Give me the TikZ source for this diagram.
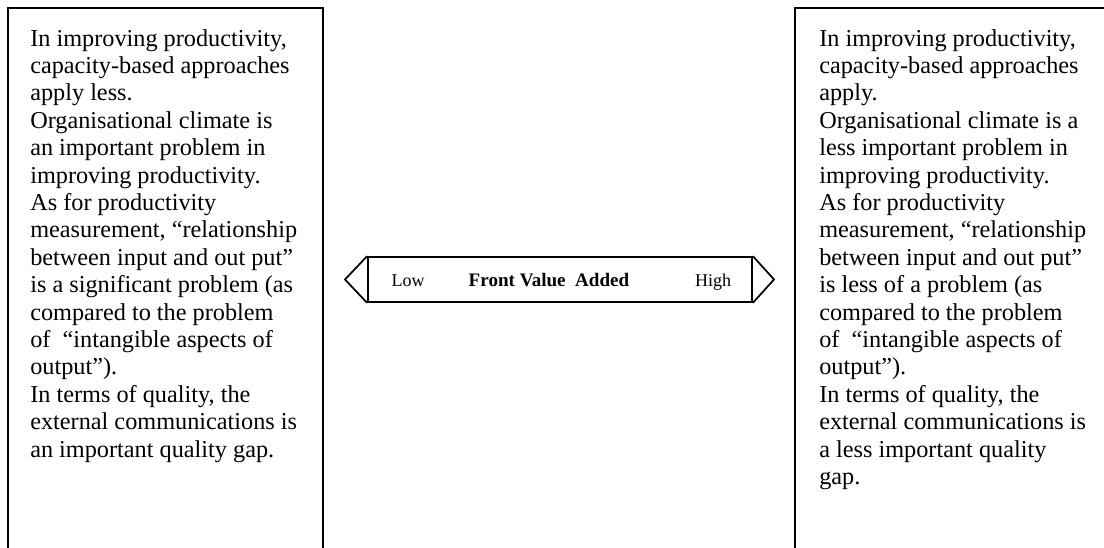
\documentclass[tikz,border=0pt]{standalone}
\usepackage{fontspec}
\setmainfont{Liberation Serif}
\begin{document}
\begin{tikzpicture}[x=0.75pt,y=-0.75pt,
  boxline/.style={line width=1.5pt},
  bodytext/.style={anchor=north west,inner sep=0pt,align=left,font=\fontsize{18.2}{20.55}\selectfont},
  barbox/.style={draw,line width=1.3pt,minimum width=288pt,minimum height=33.75pt,inner sep=0pt},
  barline/.style={line width=1.3pt,line join=miter},
  bartext/.style={anchor=base,inner sep=0pt,font=\fontsize{13.5}{16}\selectfont}]
\useasboundingbox (0,0) rectangle (1104,548);
\clip (0,0) rectangle (1104,548);
% left box
\coordinate (lb1) at (8,560);
\coordinate (lb2) at (8,8);
\coordinate (lb3) at (323,8);
\coordinate (lb4) at (323,560);
\draw[boxline] (lb1) -- (lb2) -- (lb3) -- (lb4);
% right box
\coordinate (rb1) at (795,560);
\coordinate (rb2) at (795,8);
\coordinate (rb3) at (1110,8);
\coordinate (rb4) at (1110,560);
\draw[boxline] (rb1) -- (rb2) -- (rb3) -- (rb4);
\node[bodytext] (lefttext) at (30,29) {In improving productivity,\\
capacity-based approaches\\
apply less.\\
Organisational climate is\\
an important problem in\\
improving productivity.\\
As for productivity\\
measurement, “relationship\\
between input and out put”\\
is a significant problem (as\\
compared to the problem\\
of \ “intangible aspects of\\
output”).\\
In terms of quality, the\\
external communications is\\
an important quality gap.};
\node[bodytext] (righttext) at (819,29) {In improving productivity,\\
capacity-based approaches\\
apply.\\
Organisational climate is a\\
less important problem in\\
improving productivity.\\
As for productivity\\
measurement, “relationship\\
between input and out put”\\
is less of a problem (as\\
compared to the problem\\
of \ “intangible aspects of\\
output”).\\
In terms of quality, the\\
external communications is\\
a less important quality\\
gap.};
% middle bar
\node[barbox] (bar) at (560,279.5) {};
\coordinate (ltip) at (345,279.5);
\coordinate (rtip) at (774,279.5);
\draw[barline] (bar.north west) -- (ltip) -- (bar.south west);
\draw[barline] (bar.north east) -- (rtip) -- (bar.south east);
\node[bartext] (low) at (408,287) {Low};
\node[bartext,font=\fontsize{14.3}{16}\selectfont\bfseries] (fva) at (549,287) {Front Value \ Added};
\node[bartext] (high) at (713,287) {High};
\end{tikzpicture}
\end{document}
